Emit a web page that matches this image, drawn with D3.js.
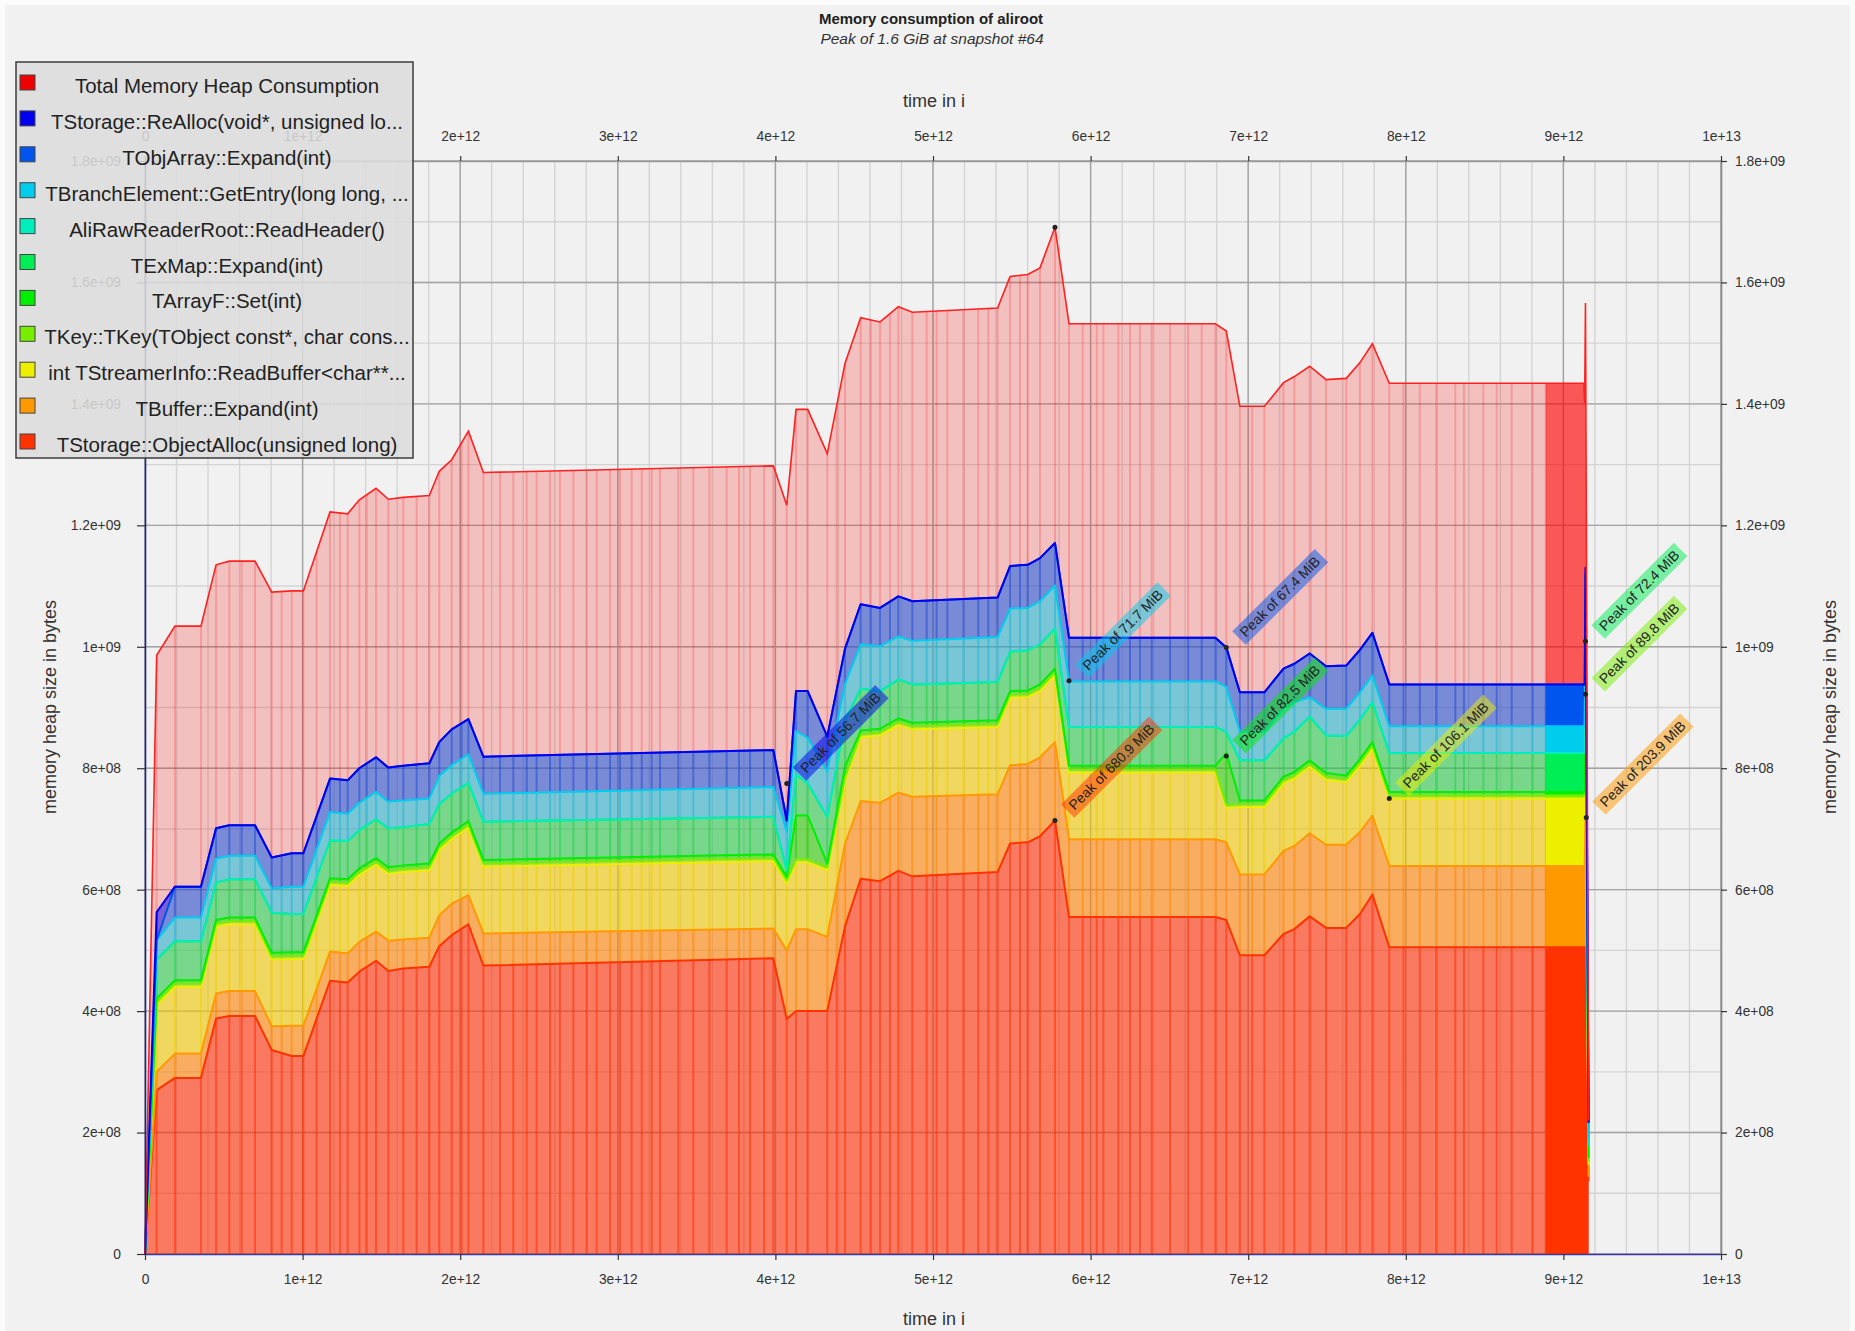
<!DOCTYPE html>
<html>
<head>
<meta charset="utf-8">
<script src="https://cdn.jsdelivr.net/npm/d3@7"></script>
<style>
  body { margin: 0; background: #fbfbfb; }
  svg { display: block; }
  text { font-family: "Liberation Sans", Arial, sans-serif; }
</style>
</head>
<body>
<div id="chart"></div>
<script>
// snapshot times where the curves bend (units of 1e12 instructions)
const times = [0, 0.074, 0.190, 0.355, 0.451, 0.535, 0.698, 0.804, 0.931, 1.005,
  1.174, 1.286, 1.360, 1.466, 1.544, 1.639, 1.804, 1.867, 1.946, 2.052,
  2.147, 3.987, 4.072, 4.131, 4.205, 4.329, 4.442, 4.541, 4.664, 4.780,
  4.869, 5.410, 5.489, 5.601, 5.679, 5.774, 5.863, 6.792, 6.861, 6.947,
  7.103, 7.224, 7.293, 7.390, 7.494, 7.622, 7.709, 7.788, 7.895, 9.130,
  9.135, 9.140, 9.160];

// heap per allocation site, in MB (1e6 bytes), stacked bottom to top
const objectAlloc = [0, 270, 290, 290, 388, 392, 392, 336, 326, 326,
  450, 447, 465, 483, 466, 470, 473, 507, 525, 543,
  475, 487, 387, 400, 400, 400, 540, 618, 614, 631,
  622, 629, 676, 678, 688, 714, 555, 555, 550, 492,
  492, 527, 535, 556, 537, 537, 560, 592, 505, 505,
  505, 505, 120];
const tBuffer = [0, 30, 40, 40, 41, 41, 41, 39, 50, 50,
  48, 48, 49, 48, 50, 48, 48, 51, 52, 48,
  53, 49, 113, 135, 135, 122, 136, 128, 129, 129,
  131, 128, 129, 129, 130, 129, 128, 128, 128, 133,
  133, 137, 137, 137, 137, 137, 135, 130, 134, 134,
  134, 214, 7];
const readBuffer = [0, 110, 110, 110, 110, 110, 110, 110, 110, 110,
  110, 111, 110, 110, 110, 111, 111, 107, 106, 111,
  110, 111, 110, 110, 110, 110, 104, 105, 111, 111,
  111, 111, 111, 110, 109, 110, 110, 110, 56, 111,
  111, 111, 111, 109, 107, 103, 109, 110, 111, 111,
  111, 109, 20];
const tKey = [0, 5, 5, 5, 5, 5, 5, 5, 5, 5,
  5, 5, 5, 5, 5, 5, 5, 5, 5, 5,
  5, 5, 5, 5, 5, 5, 5, 5, 5, 5,
  5, 5, 5, 5, 5, 5, 5, 5, 5, 5,
  5, 5, 5, 5, 5, 5, 5, 5, 5, 5,
  5, 94, 5];
const tArrayF = [0, 6, 6, 6, 6, 6, 6, 6, 6, 6,
  6, 6, 6, 6, 6, 6, 6, 6, 6, 6,
  6, 6, 6, 72, 72, 6, 18, 6, 6, 6,
  6, 6, 6, 6, 6, 6, 6, 6, 86, 6,
  6, 6, 6, 6, 6, 6, 6, 6, 6, 6,
  6, 11, 6];
const tExMap = [0, 64, 64, 64, 62, 63, 63, 66, 63, 63,
  62, 63, 63, 64, 64, 63, 65, 65, 64, 63,
  63, 62, 11, 68, 53, 77, 76, 69, 62, 64,
  63, 63, 65, 66, 66, 66, 64, 64, 35, 66,
  66, 63, 66, 72, 62, 65, 65, 66, 64, 64,
  64, 76, 20];
const aliRawReader = [0, 0, 0, 0, 0, 0, 0, 0, 0, 0,
  0, 0, 0, 0, 0, 0, 0, 0, 0, 0,
  0, 0, 0, 0, 0, 0, 0, 0, 0, 0,
  0, 0, 0, 0, 0, 0, 0, 0, 0, 0,
  0, 0, 0, 0, 0, 0, 0, 0, 0, 0,
  0, 0, 0];
const branchGetEntry = [0, 32, 39, 39, 39, 39, 39, 40, 45, 45,
  47, 45, 45, 45, 44, 44, 42, 46, 47, 47,
  46, 49, 63, 71, 75, 75, 60, 73, 74, 71,
  72, 74, 71, 70, 71, 71, 75, 75, 74, 47,
  47, 49, 49, 32, 44, 45, 45, 44, 44, 44,
  44, 51, 12];
const objArrayExpand = [0, 0, 51, 51, 50, 50, 50, 51, 55, 55,
  55, 55, 57, 57, 56, 57, 58, 56, 59, 58,
  61, 61, 19, 66, 77, 57, 58, 66, 63, 66,
  65, 65, 70, 71, 71, 70, 72, 72, 65, 65,
  65, 66, 63, 72, 70, 71, 70, 70, 69, 69,
  69, 60, 26];
const reAlloc = [0, 46, 0, 0, 0, 0, 0, 0, 0, 0,
  0, 0, 0, 0, 0, 0, 0, 0, 0, 0,
  0, 0, 0, 0, 0, 0, 0, 0, 0, 0,
  0, 0, 0, 0, 0, 0, 0, 0, 0, 0,
  0, 0, 0, 0, 0, 0, 0, 0, 0, 0,
  0, 10, 0];
const totalHeap = [0, 986, 1034, 1034, 1135, 1141, 1141, 1090, 1092, 1092,
  1222, 1219, 1242, 1261, 1243, 1246, 1249, 1289, 1308, 1355,
  1287, 1298, 1233, 1391, 1391, 1318, 1467, 1542, 1535, 1560,
  1551, 1558, 1610, 1613, 1624, 1691, 1532, 1532, 1520, 1396,
  1396, 1435, 1445, 1462, 1440, 1442, 1468, 1499, 1434, 1434,
  1400, 1566, 220];

// every snapshot taken (units of 1e12), drawn as thin stripes
const snapshotTimes = [0.074, 0.190, 0.355, 0.451, 0.535, 0.613, 0.698, 0.804, 0.867, 0.931,
  1.005, 1.089, 1.174, 1.237, 1.286, 1.360, 1.407, 1.466, 1.544, 1.639,
  1.724, 1.804, 1.867, 1.946, 2.009, 2.052, 2.147, 2.253, 2.337, 2.422,
  2.485, 2.570, 2.633, 2.718, 2.803, 2.866, 2.951, 3.014, 3.088, 3.152,
  3.215, 3.268, 3.384, 3.479, 3.581, 3.691, 3.769, 3.839, 3.928, 3.987,
  4.072, 4.131, 4.205, 4.329, 4.389, 4.442, 4.541, 4.605, 4.664, 4.727,
  4.780, 4.869, 4.960, 5.023, 5.091, 5.193, 5.287, 5.351, 5.410, 5.489,
  5.552, 5.601, 5.679, 5.774, 5.863, 5.950, 6.039, 6.081, 6.176, 6.250,
  6.313, 6.388, 6.504, 6.619, 6.705, 6.792, 6.861, 6.947, 7.025, 7.103,
  7.224, 7.293, 7.390, 7.494, 7.622, 7.709, 7.788, 7.895, 7.985, 8.089,
  8.193, 8.314, 8.369, 8.492, 8.577, 8.672, 8.805, 8.888];

// selected snapshot range (units of 1e12)
const highlight = [8.888, 9.160];

// peak annotations: time (1e12), value (MB), text, series index
const peakTimes = [4.072, 5.863, 6.861, 6.861, 5.774, 7.895, 9.140, 9.140, 9.145];
const peakValues = [775, 944, 999, 820, 714, 750, 1009, 922, 719];
const peakTexts = ["Peak of 56.7 MiB", "Peak of 71.7 MiB", "Peak of 67.4 MiB", "Peak of 82.5 MiB",
  "Peak of 680.9 MiB", "Peak of 106.1 MiB", "Peak of 72.4 MiB", "Peak of 89.8 MiB", "Peak of 203.9 MiB"];
const peakSeries = [9, 7, 8, 4, 0, 2, 5, 3, 1];
const totalPeak = [5.774, 1691];

const seriesNames = ["TStorage::ObjectAlloc(unsigned long)", "TBuffer::Expand(int)",
  "int TStreamerInfo::ReadBuffer<char**...", "TKey::TKey(TObject const*, char cons...",
  "TArrayF::Set(int)", "TExMap::Expand(int)", "AliRawReaderRoot::ReadHeader()",
  "TBranchElement::GetEntry(long long, ...", "TObjArray::Expand(int)",
  "TStorage::ReAlloc(void*, unsigned lo..."];
const seriesColors = ["#ff3300", "#ff9900", "#eeee00", "#77ee00", "#00ee00",
  "#00ee55", "#00eebb", "#00ccee", "#0055ee", "#0000ee"];
const seriesValues = [objectAlloc, tBuffer, readBuffer, tKey, tArrayF, tExMap,
  aliRawReader, branchGetEntry, objArrayExpand, reAlloc];

const xTicks = [0, 1e12, 2e12, 3e12, 4e12, 5e12, 6e12, 7e12, 8e12, 9e12, 1e13];
const yTicks = [0, 2e8, 4e8, 6e8, 8e8, 1e9, 1.2e9, 1.4e9, 1.6e9, 1.8e9];

const W = 1855, H = 1331;
const svg = d3.select("#chart").append("svg").attr("width", W).attr("height", H);
const defs = svg.append("defs");

svg.append("rect").attr("x", 5).attr("y", 5).attr("width", W - 10).attr("height", H - 5)
  .attr("fill", "#f1f1f1");

const x = d3.scaleLinear().domain([0, 1e13]).range([145, 1721]);
const y = d3.scaleLinear().domain([0, 1.8e9]).range([1254, 161]);

const keys = seriesNames.map((d, i) => "s" + i);
const rows = times.map((t, i) => {
  const r = { t: t * 1e12, total: totalHeap[i] * 1e6 };
  seriesValues.forEach((vals, k) => r["s" + k] = vals[i] * 1e6);
  return r;
});
const layers = d3.stack().keys(keys)(rows);

const area = d3.area().x(d => x(d.data.t)).y0(d => y(d[0])).y1(d => y(d[1]));
const topLine = d3.line().x(d => x(d.data.t)).y(d => y(d[1]));
const totalArea = d3.area().x(d => x(d.t)).y0(y(0)).y1(d => y(d.total));
const totalLine = d3.line().x(d => x(d.t)).y(d => y(d.total));

// grid
const grid = svg.append("g");
const minorX = d3.range(0, 1e13 + 1, 2e11);
const minorY = d3.range(0, 1.8e9 + 1, 1e8);
grid.selectAll(".mx").data(minorX).join("line")
  .attr("x1", d => x(d)).attr("x2", d => x(d)).attr("y1", y(0)).attr("y2", y(1.8e9))
  .attr("stroke", "#d4d4d4").attr("stroke-width", 1.4);
grid.selectAll(".my").data(minorY).join("line")
  .attr("x1", x(0)).attr("x2", x(1e13)).attr("y1", d => y(d)).attr("y2", d => y(d))
  .attr("stroke", "#d4d4d4").attr("stroke-width", 1.4);
grid.selectAll(".Mx").data(xTicks).join("line")
  .attr("x1", d => x(d)).attr("x2", d => x(d)).attr("y1", y(0)).attr("y2", y(1.8e9))
  .attr("stroke", "#a4a4a4").attr("stroke-width", 1.4);
grid.selectAll(".My").data(yTicks).join("line")
  .attr("x1", x(0)).attr("x2", x(1e13)).attr("y1", d => y(d)).attr("y2", d => y(d))
  .attr("stroke", "#a4a4a4").attr("stroke-width", 1.4);

// clip paths
defs.append("clipPath").attr("id", "clipTotal").append("path").attr("d", totalArea(rows));
layers.forEach((layer, i) => {
  defs.append("clipPath").attr("id", "clipBand" + i).append("path").attr("d", area(layer));
});
defs.append("clipPath").attr("id", "clipHi").append("rect")
  .attr("x", x(highlight[0] * 1e12)).attr("y", 0)
  .attr("width", x(highlight[1] * 1e12) - x(highlight[0] * 1e12)).attr("height", H);

const plot = svg.append("g");
const stripes = snapshotTimes.map(t => t * 1e12);

function drawStripes(clipId, color, opacity) {
  plot.append("g").attr("clip-path", `url(#${clipId})`)
    .selectAll("line").data(stripes).join("line")
    .attr("x1", d => x(d)).attr("x2", d => x(d)).attr("y1", y(0)).attr("y2", y(1.8e9))
    .attr("stroke", color).attr("stroke-opacity", opacity).attr("stroke-width", 2);
}

// total consumption, pale
plot.append("path").attr("d", totalArea(rows)).attr("fill", "#ff0000").attr("fill-opacity", 0.2);
drawStripes("clipTotal", "#ff0000", 0.2);

// stacked bands, pale
layers.forEach((layer, i) => {
  plot.append("path").attr("d", area(layer)).attr("fill", seriesColors[i]).attr("fill-opacity", 0.5);
  drawStripes("clipBand" + i, seriesColors[i], 0.4);
});

// highlighted snapshot
const hi = plot.append("g").attr("clip-path", "url(#clipHi)");
hi.append("path").attr("d", totalArea(rows)).attr("fill", "#ff0000").attr("fill-opacity", 0.55);
layers.forEach((layer, i) => {
  hi.append("path").attr("d", area(layer)).attr("fill", seriesColors[i]);
});

// outlines
layers.forEach((layer, i) => {
  plot.append("path").attr("d", topLine(layer)).attr("fill", "none")
    .attr("stroke", seriesColors[i]).attr("stroke-width", 2).attr("stroke-linejoin", "round");
});
plot.append("path").attr("d", totalLine(rows)).attr("fill", "none")
  .attr("stroke", "#ff2020").attr("stroke-width", 1.6);

// axes
const sci = v => v === 0 ? "0" : v.toExponential().replace(/e([+-])(\d)$/, "e$10$2");
function styleAxis(g, lineColor) {
  g.selectAll("text").attr("font-size", 13.8).attr("fill", "#333")
    .style("font-family", "'Liberation Sans', Arial, sans-serif");
  g.selectAll(".tick line").attr("stroke", "#333").attr("stroke-width", 1.2);
  g.select(".domain").attr("stroke", lineColor).attr("stroke-width", 1.6);
}
svg.append("g").attr("transform", `translate(0,${y(0)})`)
  .call(d3.axisBottom(x).tickValues(xTicks).tickFormat(sci).tickSize(6).tickPadding(14).tickSizeOuter(0))
  .call(g => styleAxis(g, "#3838a0"));
svg.append("g").attr("transform", `translate(0,${y(1.8e9)})`)
  .call(d3.axisTop(x).tickValues(xTicks).tickFormat(sci).tickSize(5).tickPadding(15).tickSizeOuter(0))
  .call(g => styleAxis(g, "#999"));
svg.append("g").attr("transform", `translate(${x(0)},0)`)
  .call(d3.axisLeft(y).tickValues(yTicks).tickFormat(sci).tickSize(8).tickPadding(16).tickSizeOuter(0))
  .call(g => styleAxis(g, "#22228a"));
svg.append("g").attr("transform", `translate(${x(1e13)},0)`)
  .call(d3.axisRight(y).tickValues(yTicks).tickFormat(sci).tickSize(6).tickPadding(8).tickSizeOuter(0))
  .call(g => styleAxis(g, "#888"));

// peak markers
svg.append("circle").attr("cx", x(totalPeak[0] * 1e12)).attr("cy", y(totalPeak[1] * 1e6))
  .attr("r", 2.5).attr("fill", "#222");
peakTimes.forEach((t, i) => {
  const px = x(t * 1e12), py = y(peakValues[i] * 1e6);
  svg.append("circle").attr("cx", px).attr("cy", py).attr("r", 2.5).attr("fill", "#222");
  const g = svg.append("g").attr("transform", `translate(${px + 18},${py - 4}) rotate(-45)`);
  const rect = g.append("rect").attr("fill", seriesColors[peakSeries[i]]).attr("fill-opacity", 0.5);
  const txt = g.append("text").attr("x", 5).attr("y", -3).attr("font-size", 14).attr("fill", "#222")
    .text(peakTexts[i]);
  const w = txt.node().getComputedTextLength();
  rect.attr("x", 0).attr("y", -17).attr("width", w + 10).attr("height", 19);
});

// titles
svg.append("text").attr("x", 931).attr("y", 24).attr("text-anchor", "middle")
  .attr("font-size", 15).attr("font-weight", "bold").attr("fill", "#222")
  .text("Memory consumption of aliroot");
svg.append("text").attr("x", 932).attr("y", 44).attr("text-anchor", "middle")
  .attr("font-size", 15.5).attr("font-style", "italic").attr("fill", "#333")
  .text("Peak of 1.6 GiB at snapshot #64");
svg.append("text").attr("x", 934).attr("y", 107).attr("text-anchor", "middle")
  .attr("font-size", 18).attr("fill", "#333").text("time in i");
svg.append("text").attr("x", 934).attr("y", 1325).attr("text-anchor", "middle")
  .attr("font-size", 18).attr("fill", "#333").text("time in i");
[50, 1830].forEach(cx => {
  svg.append("text").attr("transform", `translate(${cx},707) rotate(-90)`)
    .attr("text-anchor", "middle").attr("dominant-baseline", "central")
    .attr("font-size", 18).attr("fill", "#333").text("memory heap size in bytes");
});

// legend
const legendNames = ["Total Memory Heap Consumption"].concat(seriesNames.slice().reverse());
const legendColors = ["#ee0000"].concat(seriesColors.slice().reverse());
const legend = svg.append("g");
legend.append("rect").attr("x", 16).attr("y", 62).attr("width", 397).attr("height", 396)
  .attr("fill", "#dcdcdc").attr("fill-opacity", 0.88).attr("stroke", "#3c3c3c").attr("stroke-width", 1.5);
legendNames.forEach((name, i) => {
  const cy = 83 + i * 35.9;
  legend.append("rect").attr("x", 20).attr("y", cy - 8).attr("width", 15).attr("height", 15)
    .attr("fill", legendColors[i]).attr("stroke", "#444").attr("stroke-width", 1);
  legend.append("text").attr("x", 227).attr("y", cy + 10).attr("text-anchor", "middle")
    .attr("font-size", 20.5).attr("fill", "#222").text(name);
});
</script>
</body>
</html>
